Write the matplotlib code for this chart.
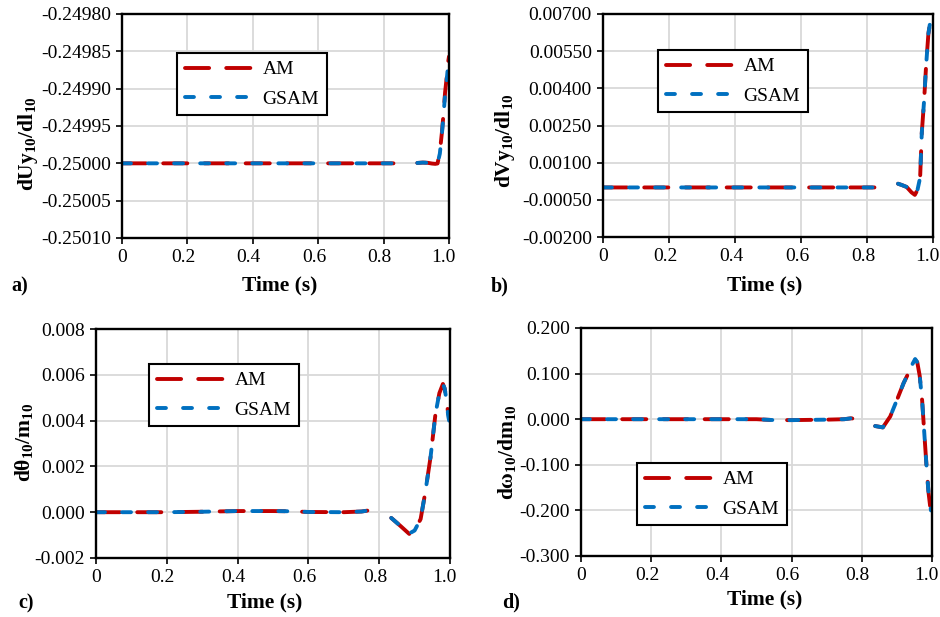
import numpy as np
import matplotlib
matplotlib.use('Agg')
import matplotlib.pyplot as plt
import matplotlib.transforms as mtransforms
from matplotlib.ticker import FormatStrFormatter

plt.rcParams['font.family'] = ['Liberation Serif', 'DejaVu Serif']
plt.rcParams['mathtext.fontset'] = 'custom'
plt.rcParams['mathtext.rm'] = 'Liberation Serif'
plt.rcParams['mathtext.bf'] = 'Liberation Serif:bold'
plt.rcParams['axes.unicode_minus'] = False

nan = np.nan

# a) dUy10/dl10
t_a = [0, 0.2, 0.4, 0.6, 0.8, 0.866, nan, 0.903, 0.92, 0.935, 0.948, 0.958, 0.965, 0.972, 0.978, 0.983, 0.988, 0.993, 0.997, 1.0]
am_a = [-0.25, -0.25, -0.25, -0.25, -0.25, -0.25, nan, -0.2499995, -0.2499990, -0.2499993, -0.2500003, -0.2500007, -0.2500002, -0.249985, -0.249960, -0.249935, -0.249905, -0.249885, -0.249865, -0.249857]
gsam_a = [-0.25, -0.25, -0.25, -0.25, -0.25, -0.25, nan, -0.2499995, -0.2499990, -0.2499993, -0.2500003, -0.2500006, -0.2500002, -0.249987, -0.249962, -0.249937, -0.249908, -0.249888, -0.249870, -0.249865]

# b) dVy10/dl10
t_b = [0, 0.2, 0.4, 0.6, 0.8, 0.857, nan, 0.894, 0.905, 0.92, 0.935, 0.945, 0.953, 0.961, 0.966, 0.973, 0.979, 0.986, 0.994, 1.0]
am_b = [0.0, 0.0, 0.0, 0.0, 0.0, 0.0, nan, 0.00015, 0.0001, 0.00002, -0.0002, -0.0003, -0.0001, 0.0004, 0.0022, 0.0035, 0.0049, 0.0062, 0.0069, 0.0071]
gsam_b = [0.0, 0.0, 0.0, 0.0, 0.0, 0.0, nan, 0.00015, 0.0001, 0.00002, -0.0002, -0.00028, -0.0001, 0.0004, 0.0022, 0.0035, 0.0049, 0.0062, 0.0069, 0.0071]

# c) dtheta10/m10
t_c = [0, 0.2, 0.3, 0.4, 0.5, 0.55, 0.6, 0.7, 0.75, 0.78, 0.808, nan, 0.834, 0.86, 0.885, 0.9, 0.917, 0.93, 0.945, 0.959, 0.97, 0.98, 0.985, 0.99, 0.995, 1.0]
am_c = [0, 0, 0.00002, 0.00005, 0.00005, 0.00004, 0.00001, 0.0, 0.00003, 0.0001, 0.00005, nan, -0.00025, -0.0006, -0.00095, -0.0008, -0.0003, 0.00085, 0.0024, 0.0043, 0.0052, 0.0056, 0.0054, 0.0049, 0.0043, 0.0041]
gsam_c = [0, 0, 0.00002, 0.00005, 0.00005, 0.00004, 0.00001, 0.0, 0.00003, 0.0001, 0.00005, nan, -0.00025, -0.0006, -0.00093, -0.0008, -0.0003, 0.00085, 0.0024, 0.0043, 0.0052, 0.0056, 0.0054, 0.0049, 0.0042, 0.0038]

# d) domega10/dm10
t_d = [0, 0.2, 0.4, 0.5, 0.55, 0.6, 0.7, 0.75, 0.77, 0.79, 0.807, nan, 0.838, 0.86, 0.881, 0.9, 0.919, 0.936, 0.943, 0.952, 0.958, 0.965, 0.972, 0.978, 0.985, 0.99, 0.997, 1.0]
am_d = [0, 0, 0, 0, -0.002, -0.002, -0.001, 0.0, 0.002, -0.001, -0.006, nan, -0.015, -0.018, 0.006, 0.042, 0.079, 0.106, 0.119, 0.13, 0.125, 0.095, 0.04, -0.03, -0.11, -0.16, -0.206, -0.21]
gsam_d = [0, 0, 0, 0, -0.002, -0.002, -0.001, 0.0, 0.002, -0.001, -0.006, nan, -0.015, -0.018, 0.006, 0.042, 0.079, 0.106, 0.119, 0.132, 0.125, 0.095, 0.04, -0.03, -0.11, -0.16, -0.2, -0.2]

x_ticks = [0, 0.2, 0.4, 0.6, 0.8, 1.0]
x_labels = ['0', '0.2', '0.4', '0.6', '0.8', '1.0']
yticks_a = [-0.2501, -0.25005, -0.25, -0.24995, -0.2499, -0.24985, -0.2498]
yticks_b = [-0.002, -0.0005, 0.001, 0.0025, 0.004, 0.0055, 0.007]
yticks_c = [-0.002, 0.0, 0.002, 0.004, 0.006, 0.008]
yticks_d = [-0.3, -0.2, -0.1, 0.0, 0.1, 0.2]

RED = '#C00000'
BLUE = '#0070C0'
W, H = 940, 617

fig = plt.figure(figsize=(9.4, 6.17), dpi=100)


def px_axes(l, t, r, b):
    return fig.add_axes([l / W, 1 - b / H, (r - l) / W, (b - t) / H])


def panel(ax, t, am, gsam, yticks, fmt, leg_xy):
    ax.plot(t, am, color=RED, lw=2.8, dashes=(6.2, 4.4), dash_capstyle='round', label='AM')
    ax.plot(t, gsam, color=BLUE, lw=2.8, dashes=(2.3, 4.4), dash_capstyle='round', label='GSAM')
    ax.set_xlim(0, 1.0)
    ax.set_ylim(yticks[0], yticks[-1])
    ax.set_xticks(x_ticks)
    ax.set_xticklabels(x_labels)
    ax.set_yticks(yticks)
    ax.yaxis.set_major_formatter(FormatStrFormatter(fmt))
    ax.grid(True, color='#d9d9d9', lw=1.3)
    ax.set_axisbelow(True)
    for s in ax.spines.values():
        s.set_linewidth(1.7)
        s.set_color('black')
    ax.tick_params(labelsize=14, length=4, width=1.2, direction='out', pad=4)
    # nudge x tick labels left a little, as in the original
    for i, lab in enumerate(ax.get_xticklabels()):
        if i > 0:
            shift = -6 if i == len(x_labels) - 1 else -4
            lab.set_transform(lab.get_transform() +
                              mtransforms.ScaledTranslation(shift / 100, 0, fig.dpi_scale_trans))
    leg = ax.legend(loc='upper left', bbox_to_anchor=(leg_xy[0] / W, 1 - leg_xy[1] / H),
                    bbox_transform=fig.transFigure, fontsize=14, handlelength=3.6,
                    handletextpad=0.4, borderpad=0.4, labelspacing=0.6,
                    borderaxespad=0, fancybox=False, framealpha=1)
    leg.get_frame().set_edgecolor('black')
    leg.get_frame().set_linewidth(1.5)


ax_a = px_axes(122, 14, 449, 238)
panel(ax_a, t_a, am_a, gsam_a, yticks_a, '%.5f', (177, 53))
ax_b = px_axes(603, 14, 933, 237)
panel(ax_b, t_b, am_b, gsam_b, yticks_b, '%.5f', (658, 50))
ax_c = px_axes(96, 329, 450, 558)
panel(ax_c, t_c, am_c, gsam_c, yticks_c, '%.3f', (149, 364))
ax_d = px_axes(581, 328, 932, 556)
panel(ax_d, t_d, am_d, gsam_d, yticks_d, '%.3f', (637, 463))

# axis titles and panel letters
for x, y in [(280, 285), (765, 285), (265, 602), (765, 599)]:
    fig.text(x / W, 1 - y / H, 'Time (s)', fontsize=15.5, fontweight='bold', ha='center', va='center')

ylabels = [(28, 144, r'$\mathbf{dUy_{10}/dl_{10}}$'),
           (505, 141, r'$\mathbf{dVy_{10}/dl_{10}}$'),
           (24, 442, r'$\mathbf{d\theta_{10}/m_{10}}$'),
           (507, 452, r'$\mathbf{d\omega_{10}/dm_{10}}$')]
for x, y, s in ylabels:
    fig.text(x / W, 1 - y / H, s, fontsize=15.5, rotation=90, ha='center', va='center')

for x, y, s in [(20, 286, 'a)'), (500, 286, 'b)'), (26, 603, 'c)'), (511, 602, 'd)')]:
    fig.text(x / W, 1 - y / H, s, fontsize=14.5, fontweight='bold', ha='center', va='center')

fig.savefig('out.png', dpi=100)
